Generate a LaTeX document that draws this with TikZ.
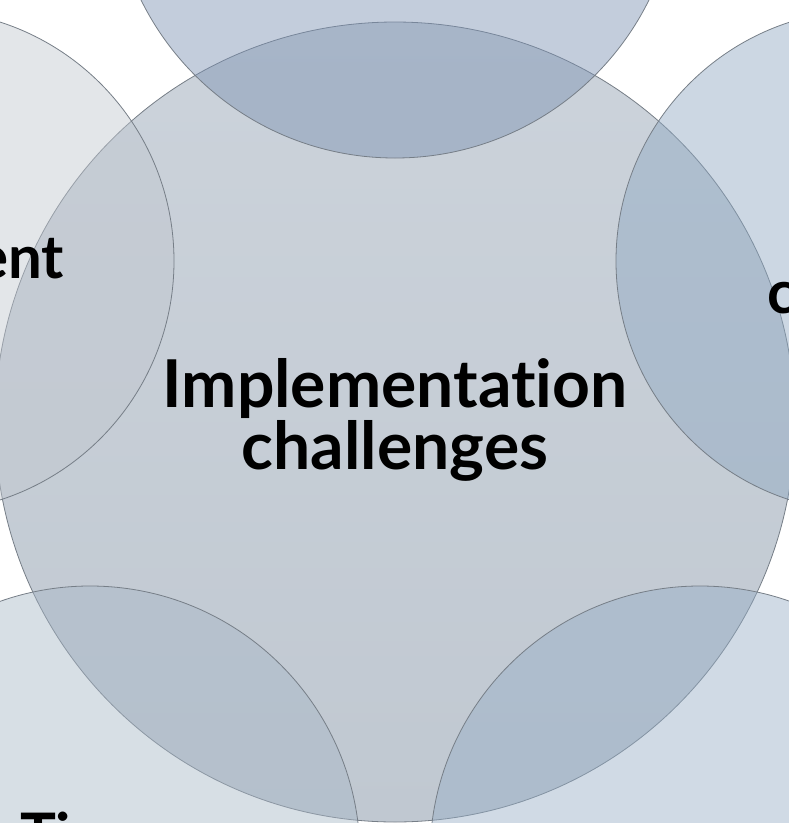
\documentclass[tikz,border=0pt]{standalone}
\usepackage{fontspec}
\setmainfont{Lato}[Ligatures={NoCommon,NoRequired,NoContextual}]
\usetikzlibrary{positioning}
\definecolor{hubtop}{RGB}{204,211,219}
\definecolor{hubbot}{RGB}{192,200,209}
\definecolor{topfill}{RGB}{123,145,178}
\definecolor{leftfill}{RGB}{193,199,207}
\definecolor{rightfill}{RGB}{141,167,193}
\definecolor{blfill}{RGB}{167,183,198}
\definecolor{brfill}{RGB}{150,174,198}
\definecolor{rim}{RGB}{118,126,135}

\begin{document}
\begin{tikzpicture}[x=1pt,y=-1pt,
    hub node/.style={circle,draw=rim,line width=0.8pt,inner sep=0pt,top color=hubtop,bottom color=hubbot},
    petal node/.style={circle,draw=rim,line width=0.8pt,inner sep=0pt,fill=#1,fill opacity=0.45},
    big text/.style={font=\fontsize{66}{66}\selectfont\bfseries,text=black,inner sep=0pt},
    side text/.style={font=\fontsize{60}{60}\selectfont\bfseries,text=black,inner sep=0pt}]
   \useasboundingbox (0,0) rectangle (789,823);
   \clip (0,0) rectangle (789,823);
   % hub first, petals on top of it
   \node[hub node,minimum size=800pt] (hub) at (395,422) {};
   \node[petal node=topfill,minimum size=566pt] (up) at (395,-125) {};
   \node[petal node=leftfill,minimum size=502pt] (west) at (-77,261) {};
   \node[petal node=rightfill,minimum size=502pt] (east) at (867,261) {};
   \node[petal node=blfill,minimum size=540pt] (southwest) at (90,856) {};
   \node[petal node=brfill,minimum size=540pt] (southeast) at (700,856) {};
   % labels
   \node[big text,align=center] (hubtext) at (395,420) {Implementation\\[-4pt]challenges};
   \node[side text,anchor=base east] (westtext) at (64,278) {ent};
   \node[side text,anchor=base west] (easttext) at (767,313) {c};
   \node[side text,anchor=base west] (swtext) at (20,856) {Ti};
\end{tikzpicture}
\end{document}
